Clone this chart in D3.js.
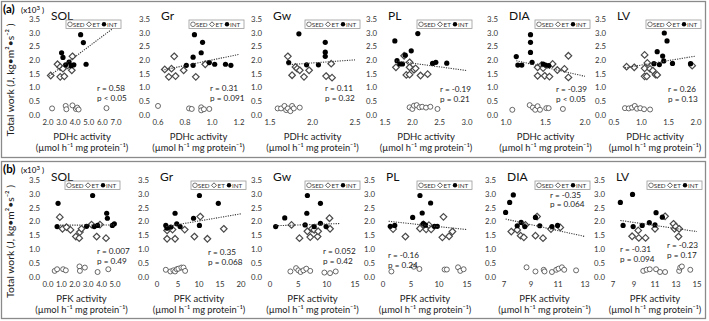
<!DOCTYPE html>
<html lang="en">
<head>
<meta charset="utf-8">
<title>Total work vs enzyme activity</title>
<script src="https://d3js.org/d3.v7.min.js"></script>
<style>
	body{ margin:0; background:#fff; }
	svg{ font-family: Lato, "Open Sans", sans-serif; }
</style>
</head>
<body>
<svg id="chart" width="709" height="321"></svg>
<script>
// panels
var muscles = ["SOL","Gr","Gw","PL","DIA","LV"]
var xTitles = ["PDHc activity","PFK activity"]
var unitLabel = "(µmol h\u207B\u00B9 mg protein\u207B\u00B9)"
var yTitle = "Total work (J, kg\u2022m\u00B2\u2022s\u207B\u00B2 )"
var yTicks = [0,0.5,1,1.5,2,2.5,3,3.5]

// x axes, row (a) PDHc and row (b) PFK
var xDomA = [[2,7],[0.6,1.2],[1.5,2.5],[1.5,3],[1,2],[0.5,2]]
var xTickA = [[2,3,4,5,6,7],[0.6,0.8,1.0,1.2],[1.5,2.0,2.5],[1.5,2.0,2.5,3.0],[1.0,1.5,2.0],[0.5,1.0,1.5,2.0]]
var xDomB = [[0,5],[0,20],[0,15],[0,15],[7,13],[7,15]]
var xTickB = [[0,1,2,3,4,5],[0,5,10,15,20],[0,5,10,15],[0,5,10,15],[7,9,11,13],[7,9,11,13,15]]

// (a) PDHc data  [activity, total work x10^3]
var sedA = [
	[[2.3,0.24],[3.3,0.33],[3.35,0.21],[3.8,0.35],[4.05,0.22],[4.15,0.27],[4.25,0.2],[6.3,0.25]],
	[[0.6,0.33],[0.83,0.24],[0.85,0.22],[0.92,0.28],[0.92,0.17],[0.94,0.21],[0.98,0.22]],
	[[1.59,0.24],[1.63,0.24],[1.67,0.33],[1.69,0.18],[1.71,0.24],[1.74,0.14],[1.76,0.33],[1.78,0.24],[1.85,0.27]],
	[[1.95,0.28],[2.0,0.22],[2.03,0.34],[2.08,0.36],[2.13,0.28],[2.18,0.3],[2.25,0.27],[2.33,0.3],[2.46,0.22]],
	[[1.08,0.19],[1.3,0.36],[1.34,0.27],[1.37,0.19],[1.4,0.32],[1.43,0.19],[1.51,0.25],[1.54,0.25],[1.72,0.22]],
	[[0.7,0.25],[0.77,0.24],[0.83,0.27],[0.88,0.33],[0.92,0.23],[0.98,0.25],[1.05,0.21],[1.16,0.2]]
]
var etA = [
	[[2.2,1.44],[2.7,1.85],[2.9,1.75],[2.9,1.39],[3.1,1.69],[3.2,1.41],[3.45,1.81],[3.75,1.63],[3.8,2.14]],
	[[0.65,1.66],[0.7,1.69],[0.72,2.14],[0.68,1.39],[0.73,1.42],[0.79,1.63],[0.88,1.39],[0.95,1.85]],
	[[1.71,2.14],[1.76,1.45],[1.8,1.75],[1.82,1.69],[1.85,1.63],[1.9,1.39],[1.96,1.63],[2.16,1.42],[2.22,1.87],[2.23,1.36]],
	[[1.7,1.74],[1.85,2.16],[1.89,1.46],[1.95,1.47],[1.95,1.92],[1.95,1.74],[2.03,1.65],[2.06,1.7],[2.15,1.44],[2.28,1.49]],
	[[1.4,1.74],[1.4,1.43],[1.45,1.82],[1.47,1.71],[1.49,1.43],[1.55,1.4],[1.59,1.86],[1.65,1.64],[1.74,1.68],[1.79,2.16],[1.79,1.37]],
	[[0.73,1.76],[0.87,1.74],[1.06,2.19],[1.06,1.7],[1.11,1.9],[1.06,1.41],[1.1,1.41],[1.16,1.68],[1.21,1.62],[1.26,1.47],[1.29,1.46],[1.93,1.8]]
]
var intA = [
	[[4.4,2.93],[4.6,2.64],[3.0,2.27],[3.1,2.1],[4.8,1.85],[3.55,1.93],[3.9,1.83],[3.3,1.83],[3.7,1.8]],
	[[0.87,2.93],[0.93,2.65],[0.86,2.11],[0.92,2.27],[0.81,1.81],[0.86,1.81],[0.98,1.91],[1.02,1.85],[1.1,1.85],[1.14,1.81]],
	[[1.72,1.91],[1.84,2.96],[1.93,1.83],[2.07,1.83],[2.15,2.65],[2.15,2.29],[2.15,2.14]],
	[[1.68,2.7],[1.72,1.98],[1.77,1.86],[1.82,1.86],[1.87,2.18],[1.98,2.34],[2.1,2.97],[2.37,1.88],[2.43,1.92],[2.63,1.89]],
	[[1.13,2.13],[1.15,1.82],[1.2,1.82],[1.31,2.93],[1.31,2.65],[1.31,2.28],[1.33,1.92],[1.47,1.86],[1.5,1.82],[1.54,1.8]],
	[[1.42,2.99],[1.47,2.7],[1.29,2.31],[1.39,2.15],[1.23,1.87],[1.33,1.84],[1.41,1.97],[1.57,1.88],[1.9,1.87]]
]
// trend lines [x0, y0, x1, y1]
var trendA = [[2.1,1.42,7.0,3.24],[0.63,1.63,1.2,2.21],[1.7,1.83,2.5,2.01],[1.7,1.97,3.0,1.62],[1.13,1.98,2.0,1.41],[0.7,1.72,2.0,2.15]]
var statA = [["r = 0.58","p < 0.05"],["r = 0.31","p = 0.091"],["r = 0.11","p = 0.32"],["r = -0.19","p = 0.21"],["r = -0.39","p < 0.05"],["r = 0.26","p = 0.13"]]

// (b) PFK data
var sedB = [
	[[0.5,0.22],[0.68,0.28],[1.13,0.28],[1.33,0.24],[2.35,0.38],[2.38,0.22],[2.75,0.34],[3.7,0.18],[4.5,0.28]],
	[[2.1,0.26],[3.2,0.2],[3.9,0.24],[4.3,0.2],[4.7,0.28],[5.1,0.3],[5.8,0.34],[6.3,0.34],[6.7,0.22]],
	[[3.6,0.2],[4.6,0.32],[5.0,0.24],[5.4,0.18],[5.9,0.24],[6.4,0.3],[7.1,0.22],[9.6,0.16],[10.6,0.14],[11.6,0.2]],
	[[1.5,0.2],[5.5,0.37],[6.5,0.29],[11.0,0.27],[11.4,0.27],[13.4,0.35],[13.8,0.22],[14.4,0.28]],
	[[8.67,0.35],[9.33,0.2],[9.94,0.26],[10.0,0.2],[10.55,0.18],[10.87,0.26],[11.04,0.3],[11.29,0.35],[11.46,0.26],[12.34,0.24]],
	[[9.88,0.22],[10.2,0.26],[10.5,0.28],[11.1,0.28],[11.48,0.18],[11.96,0.18],[13.3,0.22],[13.4,0.34],[13.56,0.38],[14.36,0.26]]
]
var etB = [
	[[0.88,2.16],[1.08,1.74],[1.38,1.8],[1.68,1.7],[2.08,1.46],[2.33,1.4],[2.38,1.62],[2.5,1.74],[3.25,1.89],[3.63,1.46],[3.88,1.89],[4.33,1.4]],
	[[2.4,1.68],[2.4,1.38],[3.7,1.71],[4.3,1.38],[6.6,1.71],[8.9,1.46],[10.3,2.18],[12.0,1.38],[15.9,1.74]],
	[[3.8,1.88],[5.2,1.4],[6.6,1.65],[7.1,1.44],[7.4,1.74],[7.8,1.7],[8.4,1.46],[8.5,1.65],[10.5,2.12],[10.6,1.74]],
	[[1.8,1.73],[4.0,1.46],[6.6,1.75],[7.2,1.9],[7.7,1.72],[8.2,1.87],[8.6,1.72],[10.6,1.43],[10.8,2.17],[11.8,1.47],[12.4,1.64]],
	[[7.54,1.64],[7.98,1.7],[8.23,1.49],[8.47,1.43],[8.59,1.88],[9.33,1.49],[9.45,2.18],[9.89,1.4],[10.48,1.73],[11.17,1.79]],
	[[8.82,1.47],[9.4,1.68],[9.46,1.41],[10.1,1.41],[11.0,1.74],[11.96,2.19],[12.76,1.92],[12.86,1.74],[12.98,1.82],[13.24,1.46],[13.3,1.74]]
]
var intB = [
	[[0.75,2.66],[0.68,1.82],[2.88,1.83],[3.33,2.94],[3.45,1.82],[3.7,1.86],[4.38,2.3],[4.43,2.12],[4.8,1.86],[4.95,1.92]],
	[[2.1,1.86],[2.4,1.76],[3.3,1.8],[4.3,2.3],[4.7,1.92],[5.5,1.82],[8.7,2.12],[10.1,2.94],[10.1,1.86],[14.6,2.66]],
	[[1.0,1.82],[2.6,2.13],[6.2,1.88],[6.5,2.3],[6.6,2.94],[7.8,1.82],[8.9,2.66],[8.9,1.94],[9.9,1.82]],
	[[1.3,1.83],[2.1,1.86],[5.3,2.15],[6.6,2.94],[7.0,2.31],[7.2,1.93],[7.6,1.87],[8.5,2.67],[9.2,1.83],[9.7,1.83]],
	[[7.12,2.33],[7.42,2.69],[7.69,2.96],[7.98,1.85],[8.27,1.97],[8.54,1.82],[9.33,2.15],[9.65,1.85],[10.55,1.82],[10.97,1.86]],
	[[7.7,2.69],[7.96,1.86],[8.86,2.98],[8.92,1.82],[9.78,1.86],[10.46,1.96],[11.0,1.88],[11.1,2.32],[11.7,2.16]]
]
var trendB = [[0.9,1.87,5.0,1.88],[2.2,1.82,20,2.28],[1.0,1.85,12.4,1.93],[1.0,2.01,15,1.71],[7.12,2.09,13,1.46],[7.7,2.04,15,1.64]]
var statB = [["r = 0.007","p = 0.49"],["r = 0.35","p = 0.068"],["r = 0.052","p = 0.42"],["r = -0.16","p = 0.24"],["r = -0.35","p = 0.064"],["r = -0.31","p = 0.094"]]
var statLVextra = ["r = -0.23","p = 0.17"]

// layout
var rows = [
	{ tag:"(a)", top:19, bot:115, box:[1,156],
	  left:[48,158,270,385,506,614], right:[116,239,355,467,585,696],
	  dom:xDomA, ticks:xTickA, fmt:d3.format(".1f"),
	  sed:sedA, et:etA, int:intA, trend:trendA, stat:statA,
	  statX:[97,210,325,440,556,668], statY:[88,88,88,89,89,89] },
	{ tag:"(b)", top:180, bot:277, box:[161,157],
	  left:[48,157,270,383,504,613], right:[115,241,355,467,585,697],
	  dom:xDomB, ticks:xTickB, fmt:null,
	  sed:sedB, et:etB, int:intB, trend:trendB, stat:statB,
	  statX:[97,208,323,388,550,620], statY:[251,252,251,255,194.5,249] }
]

var svg = d3.select("#chart")

function diamond(s){ return "M0," + (-s) + "L" + s + ",0L0," + s + "L" + (-s) + ",0Z" }

rows.forEach(function(row, ri){
	// frame
	svg.append("rect")
		.attr("x", 1.5).attr("y", row.box[0] + 0.5)
		.attr("width", 704).attr("height", row.box[1])
		.attr("fill", "none").attr("stroke", "#8a8a8a").attr("stroke-width", 1.3)

	svg.append("text").attr("x", 3).attr("y", row.box[0] + 12)
		.attr("font-size", 11.5).attr("font-weight", "bold").text(row.tag)
	var mult = svg.append("text").attr("x", 21).attr("y", row.box[0] + 12)
		.attr("font-size", 8)
	mult.append("tspan").text("(x10")
	mult.append("tspan").attr("dy", -3).attr("font-size", 6).text("3")
	mult.append("tspan").attr("dy", 3).text(" )")

	svg.append("text")
		.attr("transform", "translate(14," + (row.top + row.bot + 26) / 2 + ") rotate(-90)")
		.attr("text-anchor", "middle").attr("font-size", 10.3).attr("fill", "#222")
		.text(yTitle)

	muscles.forEach(function(m, i){
		var x = d3.scaleLinear().domain(row.dom[i]).range([row.left[i], row.right[i]])
		var y = d3.scaleLinear().domain([0, 3.5]).range([row.bot, row.top])
		var g = svg.append("g")
		var xf = row.fmt || (row.dom[i][1] <= 5 ? d3.format(".1f") : d3.format("d"))

		// y axis labels
		g.selectAll(".yt").data(yTicks).enter().append("text")
			.attr("x", row.left[i] - 8).attr("y", d => y(d) + 2.8)
			.attr("text-anchor", "end").attr("font-size", 7.8).attr("fill", "#333")
			.text(d => d3.format(".1f")(d))
		// x axis labels
		g.selectAll(".xt").data(row.ticks[i]).enter().append("text")
			.attr("x", d => x(d)).attr("y", row.bot + 10)
			.attr("text-anchor", "middle").attr("font-size", 7.8).attr("fill", "#333")
			.text(d => xf(d))

		var cx = (row.left[i] + row.right[i]) / 2
		g.append("text").attr("x", cx).attr("y", row.bot + 25)
			.attr("text-anchor", "middle").attr("font-size", 9.5).attr("fill", "#222")
			.text(xTitles[ri])
		g.append("text").attr("x", cx).attr("y", row.bot + 36)
			.attr("text-anchor", "middle").attr("font-size", 9.3).attr("fill", "#222")
			.text(unitLabel)

		// panel title
		g.append("text").attr("x", row.left[i] + 3).attr("y", row.top + 0.5)
			.attr("font-size", 12).attr("fill", "#111").text(m)

		// points
		g.selectAll(".sed").data(row.sed[i]).enter().append("circle")
			.attr("cx", d => x(d[0])).attr("cy", d => y(d[1])).attr("r", 2.5)
			.attr("fill", "#fff").attr("stroke", "#444").attr("stroke-width", 0.8)
		g.selectAll(".et").data(row.et[i]).enter().append("path")
			.attr("d", diamond(3.3))
			.attr("transform", d => "translate(" + x(d[0]) + "," + y(d[1]) + ")")
			.attr("fill", "#fff").attr("stroke", "#4a4a4a").attr("stroke-width", 1.2)
		g.selectAll(".int").data(row.int[i]).enter().append("circle")
			.attr("cx", d => x(d[0])).attr("cy", d => y(d[1])).attr("r", 2.6)
			.attr("fill", "#000")

		// trend line
		var t = row.trend[i]
		g.append("line")
			.attr("x1", x(t[0])).attr("y1", y(t[1])).attr("x2", x(t[2])).attr("y2", y(t[3]))
			.attr("stroke", "#3a3a3a").attr("stroke-width", 1.1).attr("stroke-dasharray", "1.2,1.2")

		// r / p
		var st = [row.stat[i]]
		var sx = [row.statX[i]], sy = [row.statY[i]]
		if (ri === 1 && i === 5) { st.push(statLVextra); sx.push(667); sy.push(245) }
		st.forEach(function(s, k){
			g.append("text").attr("x", sx[k]).attr("y", sy[k] + 3).attr("font-size", 8.2).attr("fill", "#222").text(s[0])
			g.append("text").attr("x", sx[k]).attr("y", sy[k] + 12.5).attr("font-size", 8.2).attr("fill", "#222").text(s[1])
		})

		// legend
		var lw = 55, lx = row.right[i] + 5 - lw, ly = row.top + 1
		var lg = g.append("g")
		lg.append("rect").attr("x", lx).attr("y", ly).attr("width", lw).attr("height", 8.5)
			.attr("fill", "#fff").attr("stroke", "#9a9a9a").attr("stroke-width", 0.8)
		lg.append("circle").attr("cx", lx + 4).attr("cy", ly + 4.3).attr("r", 2.3)
			.attr("fill", "#fff").attr("stroke", "#444").attr("stroke-width", 0.7)
		lg.append("text").attr("x", lx + 6.8).attr("y", ly + 6.6).attr("font-size", 6.3).attr("fill", "#333").text("SED")
		lg.append("path").attr("d", diamond(2.5)).attr("transform", "translate(" + (lx + 23) + "," + (ly + 4.3) + ")")
			.attr("fill", "#fff").attr("stroke", "#4a4a4a").attr("stroke-width", 0.9)
		lg.append("text").attr("x", lx + 26.5).attr("y", ly + 6.6).attr("font-size", 6.3).attr("fill", "#333").text("ET")
		lg.append("circle").attr("cx", lx + 38).attr("cy", ly + 4.3).attr("r", 2.2).attr("fill", "#000")
		lg.append("text").attr("x", lx + 41).attr("y", ly + 6.6).attr("font-size", 6.3).attr("fill", "#333").text("INT")
	})
})
</script>
</body>
</html>
